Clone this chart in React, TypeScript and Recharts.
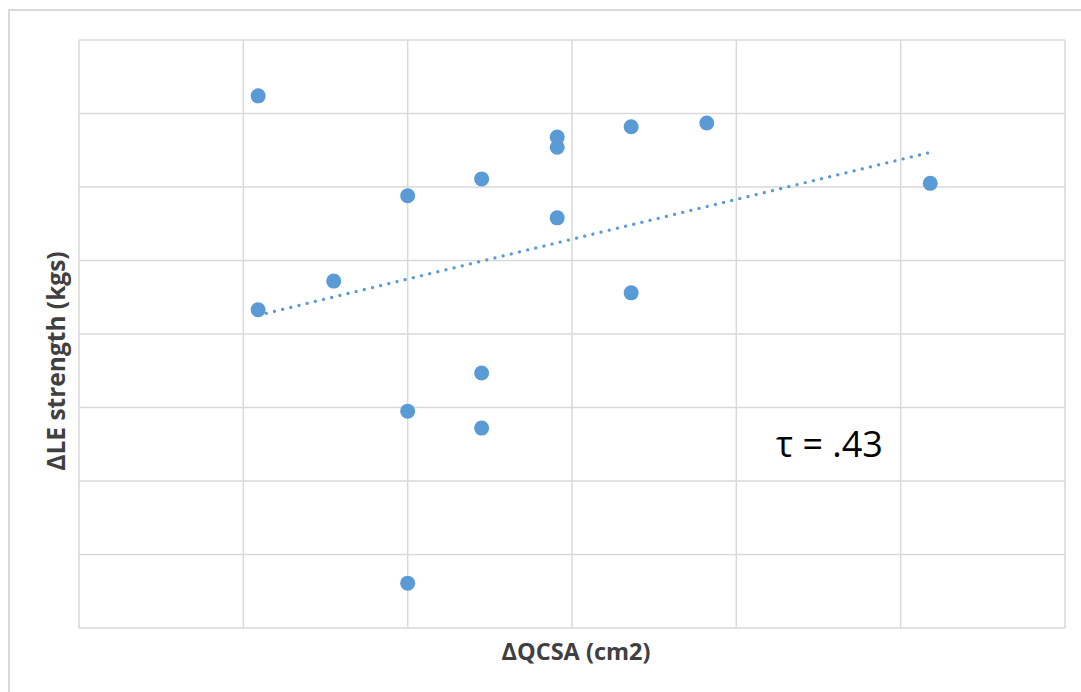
import {
  CartesianGrid,
  Customized,
  ReferenceLine,
  Scatter,
  ScatterChart,
  XAxis,
  YAxis,
} from "recharts"

// values, in grid units
const qcsaChange = [
  1.09, 1.09, 1.55, 2.0, 2.0, 2.0, 2.45, 2.45, 2.45, 2.91, 2.91, 2.91, 3.36,
  3.36, 3.82, 5.18,
]
const strengthChange = [
  7.24, 4.33, 4.72, 5.88, 2.95, 0.61, 6.11, 3.47, 2.72, 6.68, 6.54, 5.58, 6.82,
  4.56, 6.87, 6.05,
]
const xTicks = [0, 1, 2, 3, 4, 5, 6]
const yTicks = [0, 1, 2, 3, 4, 5, 6, 7, 8]
const xTitle = "ΔQCSA (cm2)"
const yTitle = "ΔLE strength (kgs)"
const tauLabel = "τ = .43"

const points = qcsaChange.map((x, i) => ({ x, y: strengthChange[i] }))

// least squares trendline, like excel's linear trendline
const n = points.length
const meanX = qcsaChange.reduce((a, b) => a + b, 0) / n
const meanY = strengthChange.reduce((a, b) => a + b, 0) / n
let sxy = 0
let sxx = 0
points.forEach((p) => {
  sxy += (p.x - meanX) * (p.y - meanY)
  sxx += (p.x - meanX) * (p.x - meanX)
})
const slope = sxy / sxx
const intercept = meanY - slope * meanX
const minX = Math.min(...qcsaChange)
const maxX = Math.max(...qcsaChange)
const trendSegment = [
  { x: minX, y: intercept + slope * minX },
  { x: maxX, y: intercept + slope * maxX },
]

const GRID = "#D9D9D9"
const BLUE = "#5B9BD5"
const TEXT = "#404040"
const FONT = "'Open Sans', sans-serif"

const Titles = () => (
  <g>
    <text
      x={576}
      y={660}
      textAnchor='middle'
      fontFamily={FONT}
      fontWeight='bold'
      fontSize={23.5}
      fill={TEXT}
    >
      {xTitle}
    </text>
    <text
      x={65}
      y={361}
      transform='rotate(-90 65 361)'
      textAnchor='middle'
      fontFamily={FONT}
      fontWeight='bold'
      fontSize={24.5}
      fill={TEXT}
    >
      {yTitle}
    </text>
    <text x={776} y={457} fontFamily={FONT} fontSize={36} fill='#000000'>
      {tauLabel}
    </text>
  </g>
)

const noTick = () => <g />

const App = () => {
  return (
    <div
      style={{
        position: "absolute",
        left: 0,
        top: 0,
        width: 1081,
        height: 692,
        overflow: "hidden",
        background: "#fff",
      }}
    >
      <div
        style={{
          position: "absolute",
          left: 8,
          top: 9,
          width: 1100,
          height: 720,
          border: `2px solid ${GRID}`,
          boxSizing: "border-box",
        }}
      />
      <ScatterChart
        width={1081}
        height={692}
        margin={{ top: 40, right: 16, bottom: 64, left: 79 }}
        style={{ position: "absolute", left: 0, top: 0 }}
      >
        <CartesianGrid stroke={GRID} strokeWidth={1.5} />
        <XAxis
          type='number'
          dataKey='x'
          domain={[0, 6]}
          ticks={xTicks}
          tick={noTick}
          tickLine={false}
          axisLine={false}
          height={0}
        />
        <YAxis
          type='number'
          dataKey='y'
          domain={[0, 8]}
          ticks={yTicks}
          tick={noTick}
          tickLine={false}
          axisLine={false}
          width={0}
        />
        <ReferenceLine
          segment={trendSegment}
          stroke={BLUE}
          strokeWidth={3.2}
          strokeDasharray='0.1 8.3'
          strokeLinecap='round'
        />
        <Scatter
          data={points}
          fill={BLUE}
          isAnimationActive={false}
          shape={(props: any) => (
            <circle cx={props.cx} cy={props.cy} r={7.5} fill={BLUE} />
          )}
        />
        <Customized component={Titles} />
      </ScatterChart>
    </div>
  )
}

export default App
